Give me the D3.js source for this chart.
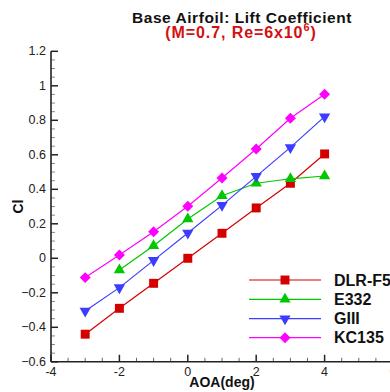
<!DOCTYPE html>
<html><head><meta charset="utf-8">
<script src="https://cdn.jsdelivr.net/npm/d3@7"></script>
<style>body{margin:0;background:#fff;}svg{display:block;font-family:"Liberation Sans",Arial,sans-serif;}</style>
</head><body>
<script>
const aoa = [-3,-2,-1,0,1,2,3,4];
const dlrF5 = [-0.44,-0.29,-0.145,0.0,0.145,0.292,0.435,0.605];
const e332 = [null,-0.068,0.073,0.228,0.363,0.435,0.461,0.477];
const g3 = [-0.306,-0.170,-0.012,0.147,0.307,0.475,0.643,0.821];
const kc135 = [-0.112,0.019,0.154,0.302,0.466,0.634,0.812,0.951];
const seriesNames = ["DLR-F5","E332","GIII","KC135"];
const xTicks = [-4,-2,0,2,4,6];
const yTicks = [-0.6,-0.4,-0.2,0,0.2,0.4,0.6,0.8,1,1.2];

const series = [
  {name:seriesNames[0], vals:dlrF5, color:"#d40000", sym:d3.symbolSquare, size:80, rot:0},
  {name:seriesNames[1], vals:e332, color:"#00c800", sym:d3.symbolTriangle, size:55, rot:0},
  {name:seriesNames[2], vals:g3, color:"#3c3cff", sym:d3.symbolTriangle, size:55, rot:180},
  {name:seriesNames[3], vals:kc135, color:"#ff00ff", sym:d3.symbolSquare, size:60, rot:45}
];

const W=390,H=392;
const svg=d3.select("body").append("svg").attr("width",W).attr("height",H);
const x=d3.scaleLinear().domain([-4,6]).range([51,393]);
const y=d3.scaleLinear().domain([-0.6,1.2]).range([361.8,51.3]);

// minor ticks
const g=svg.append("g");
const xMinor=d3.range(-4,6.01,0.5).filter(v=>Math.abs(v/2-Math.round(v/2))>1e-6);
const yMinor=d3.range(-0.6,1.201,0.05).filter(v=>Math.abs(v/0.2-Math.round(v/0.2))>1e-6);
g.selectAll(".xm").data(xMinor).enter().append("line")
  .attr("x1",d=>x(d)).attr("x2",d=>x(d)).attr("y1",y(-0.6)).attr("y2",y(-0.6)-4)
  .attr("stroke","#666").attr("stroke-width",1);
g.selectAll(".ym").data(yMinor).enter().append("line")
  .attr("y1",d=>y(d)).attr("y2",d=>y(d)).attr("x1",x(-4)).attr("x2",x(-4)+4)
  .attr("stroke","#888").attr("stroke-width",1);
g.selectAll(".xM").data(xTicks).enter().append("line")
  .attr("x1",d=>x(d)).attr("x2",d=>x(d)).attr("y1",y(-0.6)).attr("y2",y(-0.6)-7)
  .attr("stroke","#222").attr("stroke-width",1.5);
g.selectAll(".yM").data(yTicks).enter().append("line")
  .attr("y1",d=>y(d)).attr("y2",d=>y(d)).attr("x1",x(-4)).attr("x2",x(-4)+7)
  .attr("stroke","#222").attr("stroke-width",1.5);
// axis lines
g.append("line").attr("x1",x(-4)).attr("x2",x(6)).attr("y1",y(-0.6)).attr("y2",y(-0.6)).attr("stroke","#222").attr("stroke-width",1.6);
g.append("line").attr("x1",x(-4)).attr("x2",x(-4)).attr("y1",y(-0.6)).attr("y2",y(1.2)).attr("stroke","#222").attr("stroke-width",1.6);

// tick labels
g.selectAll(".xl").data(xTicks).enter().append("text")
  .attr("x",d=>x(d)).attr("y",y(-0.6)+14).attr("text-anchor","middle")
  .attr("font-size",12.5).attr("fill","#222").text(d=>d);
g.selectAll(".yl").data(yTicks).enter().append("text")
  .attr("x",x(-4)-5).attr("y",d=>y(d)+4).attr("text-anchor","end")
  .attr("font-size",12.5).attr("fill","#222").text(d=>d3.format("")(+d.toFixed(1)));

// axis titles
svg.append("text").attr("x",(x(-4)+x(6))/2).attr("y",387).attr("text-anchor","middle")
  .attr("font-size",14).attr("font-weight","bold").attr("fill","#111").text("AOA(deg)");
svg.append("text").attr("transform",`translate(23,${(y(-0.6)+y(1.2))/2}) rotate(-90)`).attr("text-anchor","middle")
  .attr("font-size",14).attr("font-weight","bold").attr("fill","#111").text("Cl");

// title
svg.append("text").attr("x",242).attr("y",23).attr("text-anchor","middle")
  .attr("font-size",15.5).attr("letter-spacing",0.55).attr("font-weight","bold").attr("fill","#111").text("Base Airfoil: Lift Coefficient");
const sub=svg.append("text").attr("x",241).attr("y",38).attr("text-anchor","middle")
  .attr("font-size",16).attr("letter-spacing",0.9).attr("font-weight","bold").attr("fill","#d41010");
sub.append("tspan").text("(M=0.7, Re=6x10");
sub.append("tspan").attr("dy",-7).attr("font-size",11).text("6");
sub.append("tspan").attr("dy",7).text(")");

// series
const line=d3.line().defined(d=>d[1]!=null).x(d=>x(d[0])).y(d=>y(d[1]));
series.forEach(s=>{
  const pts=aoa.map((a,i)=>[a,s.vals[i]]);
  svg.append("path").datum(pts).attr("d",line).attr("fill","none").attr("stroke",s.color).attr("stroke-width",1.2);
  svg.selectAll(null).data(pts.filter(p=>p[1]!=null)).enter().append("path")
    .attr("d",d3.symbol().type(s.sym).size(s.size))
    .attr("transform",d=>`translate(${x(d[0])},${y(d[1])}) rotate(${s.rot})`)
    .attr("fill",s.color);
});

// legend
const ly=[280,299.3,318.7,337.7];
series.forEach((s,i)=>{
  svg.append("line").attr("x1",249).attr("x2",321).attr("y1",ly[i]).attr("y2",ly[i]).attr("stroke",s.color).attr("stroke-width",1.2);
  svg.append("path").attr("d",d3.symbol().type(s.sym).size(s.size)).attr("transform",`translate(285,${ly[i]}) rotate(${s.rot})`).attr("fill",s.color);
  svg.append("text").attr("x",334).attr("y",ly[i]+5.5).attr("font-size",16).attr("font-weight","bold").attr("fill","#111").text(s.name);
});
</script>
</body></html>
